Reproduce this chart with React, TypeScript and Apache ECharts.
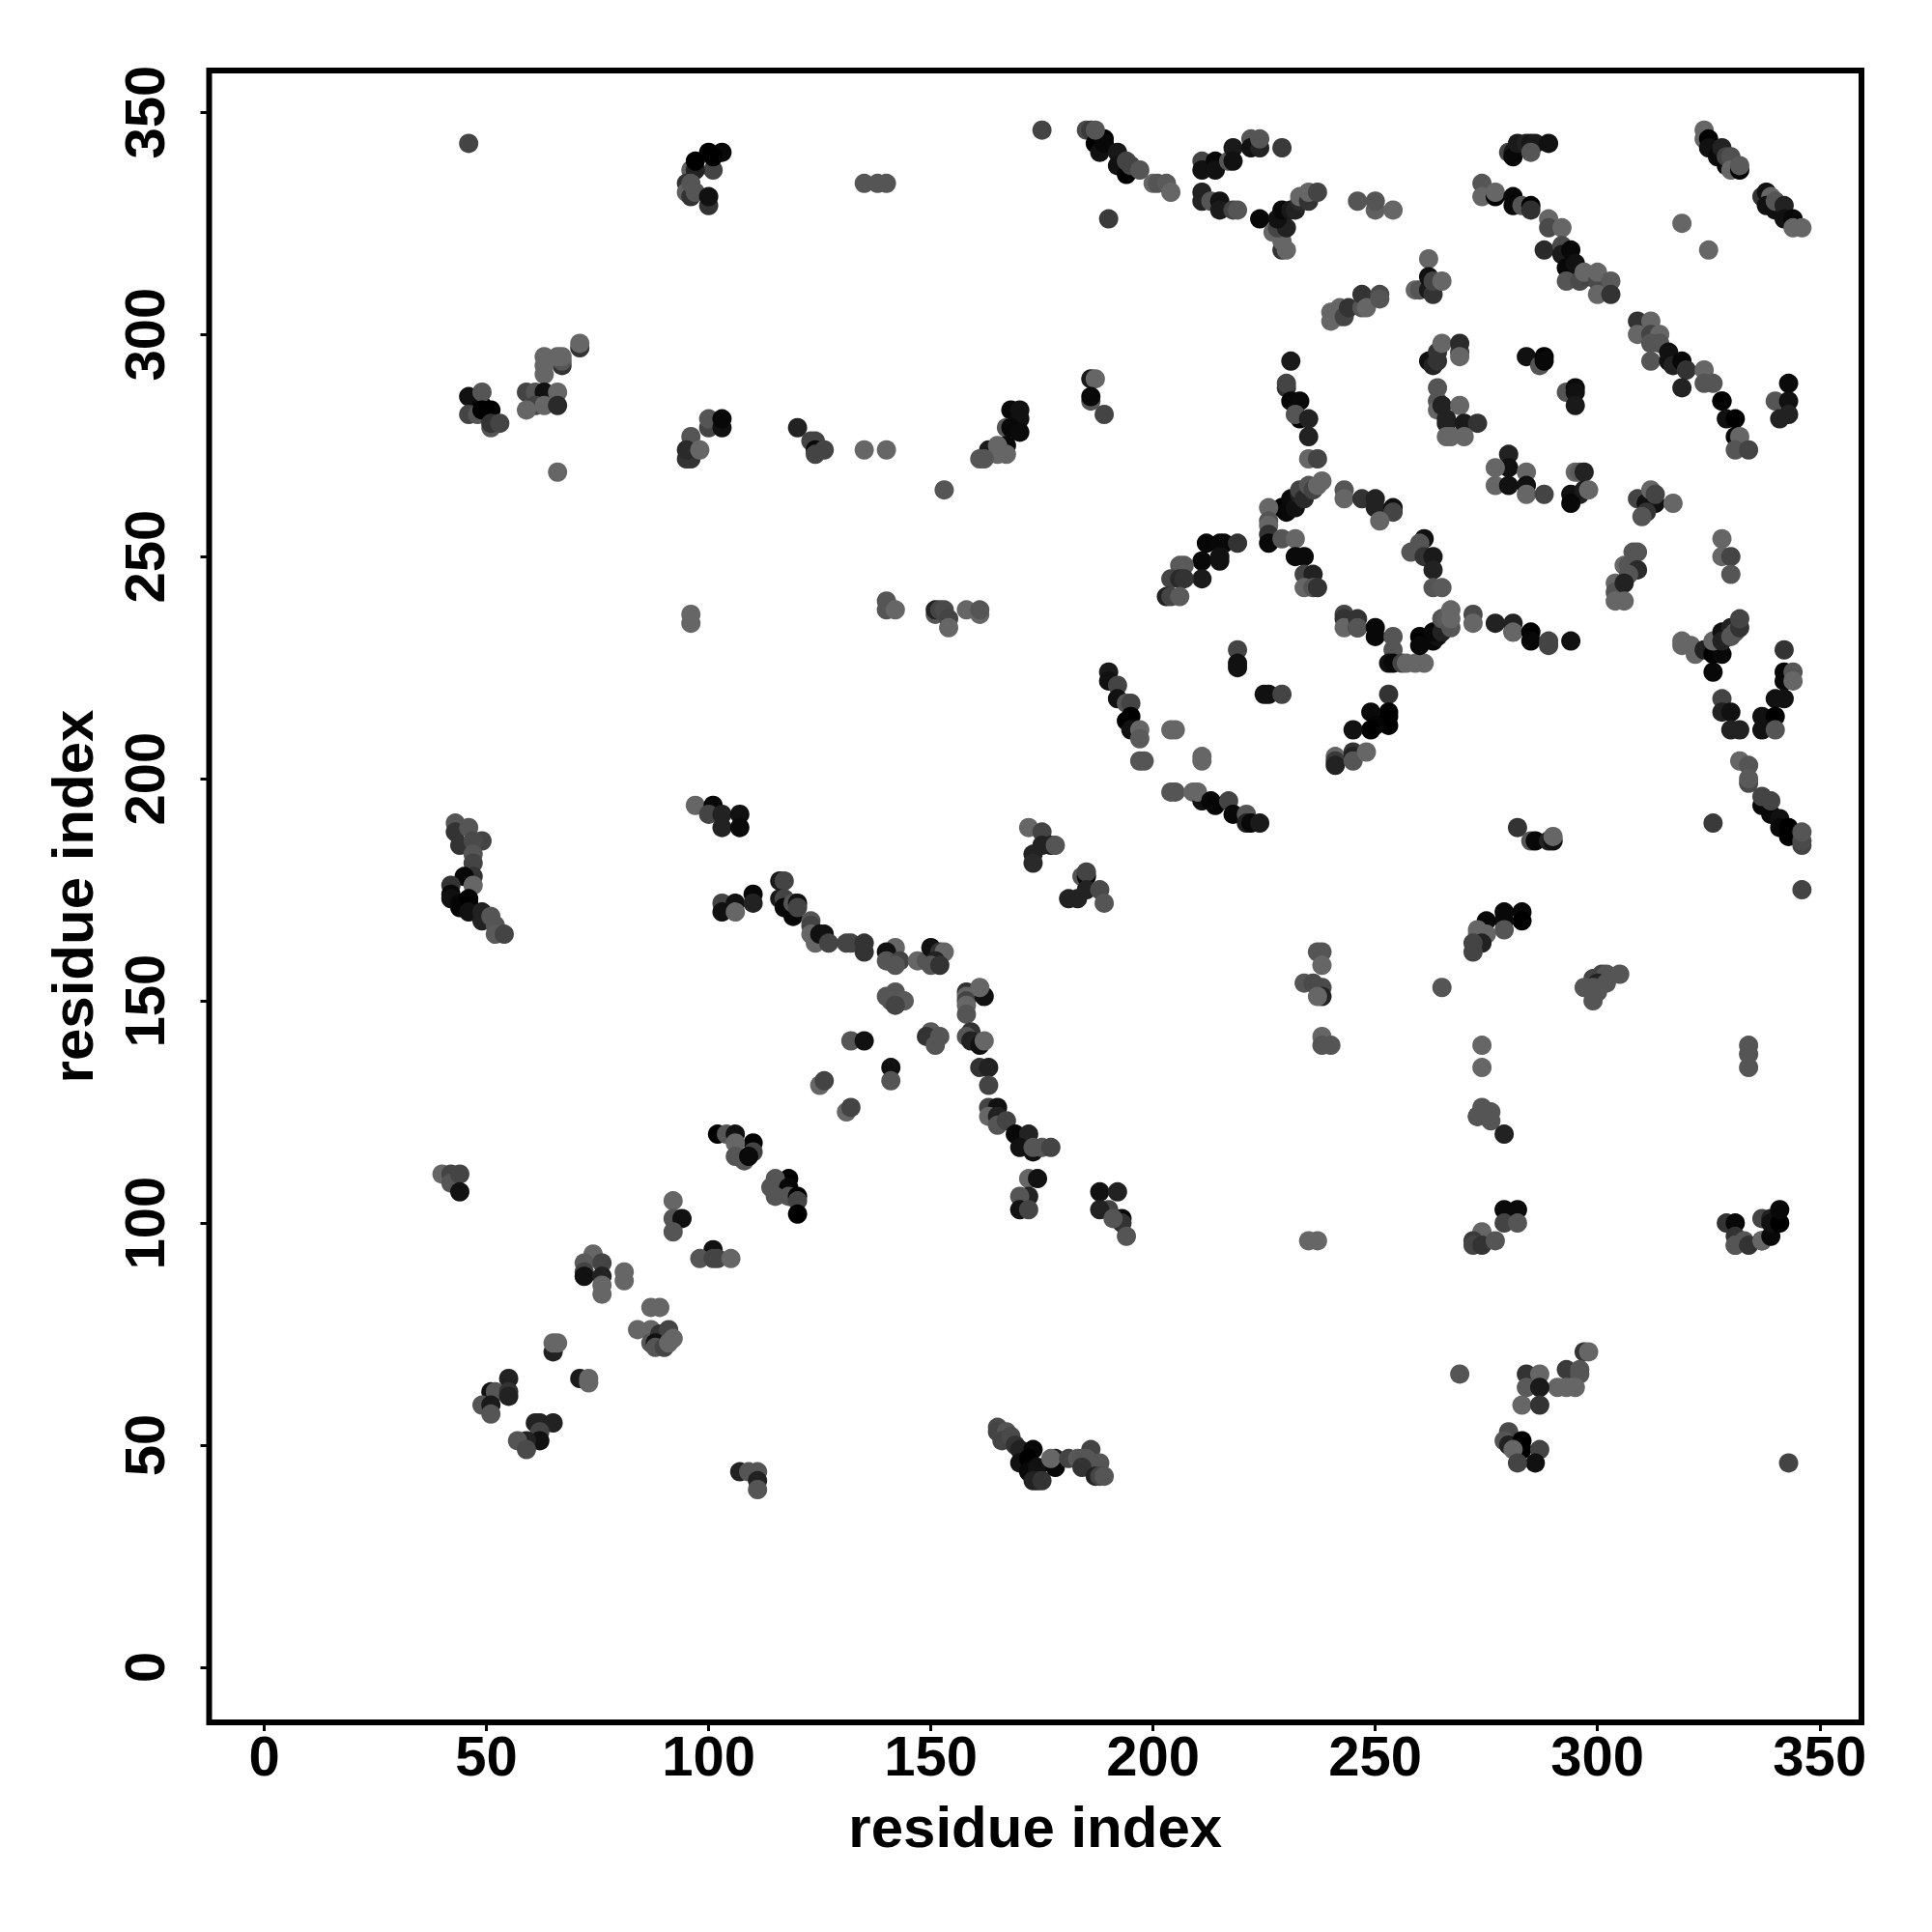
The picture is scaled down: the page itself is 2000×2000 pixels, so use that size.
import React, { useEffect, useRef } from "react";
import * as echarts from "echarts";

type Contact = [number, number, number];

const tickValues = [0, 50, 100, 150, 200, 250, 300, 350];
const xTitle = "residue index";
const yTitle = "residue index";

const upperLeft: Contact[] = [
  [46,343,0x44],[96,337,0x60],[101,337,0x44],[103,341,0x08],[100,341,0x00],[101,340,0x00],[97,337,0x22],[97,339,0x00],
  [95,334,0x33],[95,332,0x60],[96,331,0x33],[96,334,0x55],[97,332,0x55],[100,329,0x33],[100,331,0x11],
  [71,297,0x33],[71,298,0x66],[67,293,0x33],[67,294,0x55],[66,295,0x66],[67,295,0x66],[63,291,0x66],[63,293,0x66],[63,295,0x66],
  [59,287,0x44],[61,287,0x55],[63,287,0x11],[66,287,0x66],[61,284,0x44],[63,284,0x66],[66,284,0x2a],[59,283,0x66],[66,269,0x66],
  [46,286,0x11],[49,284,0x08],[49,287,0x55],[46,282,0x44],[48,282,0x55],[49,283,0x00],[51,283,0x00],[51,279,0x55],[51,280,0x33],[53,280,0x44],
  [100,279,0x44],[100,281,0x55],[103,279,0x11],[103,281,0x08],[96,277,0x55],[95,272,0x33],[96,272,0x33],[95,274,0x2a],[98,274,0x66],
  [96,237,0x66],[96,235,0x66],
];

const upperMiddle: Contact[] = [
  [135,334,0x55],[138,334,0x55],[140,334,0x55],[175,346,0x44],[185,346,0x4a],[186,346,0x3a],[187,343,0x00],[189,344,0x00],[188,341,0x11],[189,343,0x08],[187,346,0x55],
  [192,341,0x18],[192,338,0x11],[194,336,0x00],[194,339,0x44],[195,338,0x44],[197,337,0x55],
  [200,334,0x66],[201,334,0x55],[203,334,0x5a],[204,332,0x66],[190,326,0x3a],
  [211,339,0x44],[211,337,0x11],[214,339,0x08],[214,337,0x11],[217,339,0x55],[218,342,0x1a],[218,339,0x11],[222,344,0x55],[222,342,0x11],[224,342,0x22],[224,344,0x55],[229,342,0x3a],
  [211,332,0x22],[211,330,0x22],[213,330,0x55],[215,330,0x11],[215,328,0x1a],[218,328,0x44],[219,328,0x55],[224,326,0x08],
  [229,319,0x33],[230,319,0x66],[229,321,0x66],[227,323,0x66],[228,324,0x44],[230,324,0x22],[228,326,0x11],[229,328,0x08],[231,328,0x1a],[232,328,0x22],[233,330,0x2a],[234,331,0x22],[233,331,0x66],[235,330,0x33],[235,332,0x66],[237,332,0x44],
  [246,330,0x55],[250,328,0x60],[250,330,0x55],[254,328,0x66],
  [240,305,0x66],[240,303,0x66],[242,306,0x66],[242,304,0x66],[243,304,0x44],[244,306,0x33],[247,306,0x55],[247,309,0x33],[248,306,0x66],[251,309,0x4a],[251,308,0x55],
  [140,240,0x55],[140,238,0x55],[142,238,0x66],[151,237,0x55],[151,238,0x22],[152,238,0x44],[153,238,0x4a],[154,236,0x44],[154,234,0x66],[158,238,0x66],[161,237,0x66],[161,238,0x55],
  [186,290,0x1a],[187,290,0x66],[186,285,0x55],[186,286,0x08],[189,282,0x44],
  [120,279,0x22],[123,276,0x44],[124,276,0x44],[124,274,0x08],[124,273,0x44],[126,274,0x44],[135,274,0x66],[140,274,0x66],[153,265,0x55],
  [168,283,0x08],[170,283,0x11],[170,281,0x11],[167,279,0x55],[168,279,0x08],[170,278,0x0a],[167,275,0x08],[163,274,0x1a],[165,275,0x66],[165,273,0x66],[167,273,0x66],[161,272,0x55],[162,272,0x55],
];

const upperRight: Contact[] = [
  [262,317,0x66],[259,310,0x66],[260,310,0x55],[262,310,0x1a],[262,313,0x11],[263,309,0x33],[263,312,0x44],[265,312,0x66],
  [280,341,0x44],[281,341,0x1a],[281,340,0x08],[282,343,0x1a],[284,343,0x22],[285,343,0x18],[286,343,0x1a],[289,343,0x11],[285,341,0x55],
  [274,334,0x55],[274,331,0x66],[277,331,0x00],[277,332,0x66],[281,331,0x08],[281,329,0x08],[283,329,0x55],[285,329,0x00],[285,328,0x30],
  [289,326,0x66],[289,324,0x4a],[292,324,0x66],[288,319,0x2a],[292,320,0x4a],[292,318,0x1a],[294,319,0x08],[293,315,0x08],[295,316,0x11],[293,312,0x55],[296,312,0x4a],[298,313,0x44],[297,314,0x66],[300,312,0x4a],[300,314,0x66],[300,309,0x66],[303,312,0x5a],[303,309,0x33],
  [324,346,0x66],[324,344,0x66],[325,344,0x00],[325,342,0x11],[327,340,0x0a],[328,342,0x22],[329,338,0x08],[329,340,0x44],[330,340,0x50],[330,337,0x66],[332,337,0x05],[332,338,0x5a],
  [319,325,0x66],[325,319,0x66],
  [337,331,0x33],[338,332,0x11],[339,331,0x66],[338,329,0x11],[340,328,0x11],[340,330,0x55],[342,329,0x22],[342,326,0x11],[344,326,0x08],[344,324,0x66],[346,324,0x66],
  [309,303,0x33],[312,303,0x66],[309,300,0x66],[312,300,0x44],[314,300,0x66],[312,298,0x55],[314,298,0x55],[316,296,0x11],[312,294,0x55],[316,294,0x11],[317,293,0x22],[319,294,0x08],[320,292,0x33],[324,292,0x66],[319,288,0x22],[324,289,0x55],[326,289,0x55],
  [328,285,0x33],[328,285,0x00],[329,281,0x11],[331,281,0x00],[331,277,0x0a],[332,277,0x66],[331,274,0x55],[334,274,0x44],
  [340,285,0x55],[343,289,0x0a],[343,285,0x11],[343,282,0x22],[341,281,0x22],
  [280,273,0x22],[280,270,0x11],[277,270,0x66],[277,266,0x66],[284,269,0x66],[280,266,0x11],[284,266,0x11],[284,264,0x66],[288,264,0x44],
  [295,269,0x66],[296,269,0x5a],[297,269,0x22],[296,264,0x22],[294,264,0x11],[294,262,0x08],[297,265,0x1a],[298,265,0x66],
  [309,263,0x44],[311,262,0x0a],[311,262,0x11],[313,262,0x11],[311,260,0x33],[310,259,0x55],[312,265,0x66],[313,264,0x44],[317,262,0x66],
  [328,254,0x66],[328,250,0x66],[330,250,0x44],[330,246,0x55],
  [308,251,0x55],[309,251,0x55],[306,248,0x66],[307,248,0x55],[309,247,0x2a],[307,246,0x55],[304,244,0x66],[304,242,0x55],[306,244,0x22],[304,240,0x66],[306,240,0x66],
  [261,254,0x11],[260,253,0x55],[258,251,0x55],[261,250,0x33],[263,250,0x1a],[263,247,0x22],[263,243,0x55],[265,243,0x5a],
  [262,294,0x11],[263,293,0x22],[264,294,0x33],[264,296,0x33],[265,298,0x66],[269,296,0x44],[269,298,0x2a],[269,295,0x66],
  [264,288,0x55],[264,285,0x55],[264,283,0x66],[265,284,0x22],[269,284,0x66],[266,281,0x22],[266,280,0x22],[270,280,0x1a],[273,280,0x33],[266,277,0x66],[267,277,0x66],[270,277,0x66],
  [284,295,0x11],[287,293,0x55],[288,295,0x00],[288,294,0x08],
  [293,287,0x55],[295,288,0x08],[295,287,0x11],[295,284,0x1a],
];

const centerWeb: Contact[] = [
  [231,294,0x1a],[230,288,0x33],[230,289,0x44],[231,285,0x08],[233,285,0x0a],[233,281,0x00],[232,282,0x55],[235,281,0x22],[235,277,0x22],[235,272,0x66],[237,272,0x44],
  [229,261,0x08],[229,261,0x00],[230,260,0x08],[231,263,0x0a],[232,261,0x11],[233,264,0x22],[233,265,0x44],[234,263,0x2a],[235,266,0x55],[236,265,0x44],[237,266,0x66],[238,267,0x66],
  [226,261,0x66],[226,258,0x55],[226,257,0x66],[226,255,0x33],[226,253,0x08],[229,254,0x55],[232,254,0x66],
  [232,250,0x0a],[234,250,0x0a],[234,246,0x44],[236,246,0x22],[234,243,0x66],[236,243,0x55],[237,243,0x33],
  [212,253,0x05],[215,253,0x08],[216,253,0x08],[219,253,0x33],[211,249,0x08],[215,250,0x11],[215,249,0x11],[211,245,0x1a],
  [206,248,0x5a],[207,248,0x5a],[204,245,0x44],[206,245,0x2a],[207,245,0x33],[203,241,0x22],[204,241,0x44],[206,241,0x5a],
  [219,229,0x44],[219,226,0x11],[219,225,0x11],[225,219,0x11],[226,219,0x11],[229,219,0x44],
  [190,224,0x1a],[190,222,0x11],[192,221,0x44],[192,218,0x11],[194,217,0x55],[195,217,0x44],[194,213,0x00],[195,214,0x00],[195,211,0x11],[197,211,0x66],[197,209,0x5a],[197,204,0x55],[198,204,0x55],
  [204,211,0x66],[205,211,0x66],[211,205,0x66],[211,204,0x66],
  [204,197,0x55],[205,197,0x55],[209,197,0x66],[211,195,0x11],[210,197,0x66],[213,195,0x08],[214,194,0x05],[217,195,0x44],[218,192,0x08],[221,192,0x55],[221,190,0x22],[222,190,0x08],[224,190,0x1a],
  [172,189,0x66],[175,188,0x44],[175,185,0x22],[177,185,0x22],[178,185,0x55],[173,183,0x22],[173,181,0x2a],
  [184,178,0x55],[185,178,0x08],[185,179,0x44],[185,175,0x22],[188,175,0x4a],[181,173,0x22],[183,173,0x22],[189,172,0x55],
  [243,265,0x55],[243,263,0x66],[247,263,0x33],[250,263,0x22],[250,261,0x22],[254,261,0x11],[254,260,0x44],[251,258,0x66],
  [243,237,0x44],[243,236,0x33],[243,234,0x66],[246,236,0x33],[246,234,0x22],[246,234,0x55],[250,234,0x08],[250,232,0x08],[254,232,0x55],[254,229,0x55],
  [253,226,0x11],[254,226,0x08],[256,226,0x44],[257,226,0x66],[259,226,0x66],[261,226,0x66],
  [260,232,0x00],[260,230,0x08],[263,231,0x08],[264,232,0x11],[263,233,0x08],[265,233,0x22],[265,236,0x2a],[265,236,0x55],[266,236,0x5a],[267,234,0x55],[267,236,0x66],[267,238,0x66],
  [272,237,0x4a],[272,235,0x66],[277,235,0x22],[281,235,0x22],[281,233,0x11],[281,233,0x66],[285,233,0x00],[285,231,0x08],[289,231,0x44],[289,230,0x44],[294,231,0x11],
  [253,219,0x33],[253,215,0x00],[253,214,0x00],[249,215,0x0a],[253,212,0x00],[250,212,0x05],[249,211,0x00],[245,211,0x11],
  [241,205,0x66],[241,204,0x3a],[241,203,0x22],[245,206,0x33],[245,205,0x22],[245,204,0x55],[248,206,0x66],
];

const rightEdge: Contact[] = [
  [342,229,0x33],[342,224,0x08],[342,222,0x08],[344,224,0x55],[344,222,0x66],[340,218,0x11],[342,218,0x11],[337,214,0x11],[340,214,0x00],[337,211,0x11],[340,211,0x55],
  [328,218,0x44],[328,215,0x22],[330,215,0x11],[330,211,0x22],[332,211,0x22],[326,224,0x08],
  [319,231,0x66],[319,230,0x66],[321,230,0x66],[322,228,0x66],[324,229,0x22],[326,228,0x00],[328,228,0x08],[326,231,0x66],[328,233,0x11],[328,231,0x22],[330,234,0x22],[331,233,0x55],[330,232,0x55],[332,234,0x33],[332,236,0x44],
  [332,204,0x66],[334,203,0x55],[334,199,0x4a],[334,200,0x5a],[337,194,0x08],[337,196,0x44],[339,192,0x08],[339,195,0x44],[341,191,0x11],[341,189,0x08],[343,189,0x00],[343,187,0x00],[346,185,0x44],[346,186,0x4a],[346,188,0x55],
  [326,190,0x3a],[346,175,0x44],
  [282,189,0x33],[285,186,0x55],[286,186,0x08],[289,186,0x22],[290,186,0x11],[290,187,0x66],
  [283,170,0x08],[283,168,0x00],[279,170,0x08],[279,168,0x08],[279,166,0x55],[275,168,0x08],[275,165,0x66],[273,166,0x66],[273,165,0x66],[274,163,0x22],[272,163,0x44],[272,161,0x44],
  [265,153,0x55],
  [299,155,0x44],[301,156,0x44],[302,156,0x55],[305,156,0x55],[300,154,0x22],[302,154,0x55],[297,153,0x55],[299,153,0x55],[300,152,0x55],[299,150,0x55],
  [237,161,0x55],[238,161,0x55],[238,158,0x66],[234,154,0x55],[236,154,0x4a],[238,153,0x4a],[238,151,0x22],[237,151,0x66],[238,142,0x66],[238,140,0x55],[240,140,0x55],
  [274,140,0x66],[274,135,0x66],[334,140,0x55],[334,138,0x55],[334,135,0x55],
  [273,124,0x08],[273,124,0x55],[274,126,0x55],[276,125,0x55],[276,123,0x55],[279,120,0x22],
];

const lowerRight: Contact[] = [
  [279,103,0x0a],[282,103,0x0a],[279,100,0x44],[282,100,0x55],[274,98,0x66],[272,96,0x3a],[272,95,0x44],[274,95,0x33],[277,96,0x55],
  [235,96,0x66],[237,96,0x66],
  [329,100,0x33],[331,100,0x08],[331,97,0x33],[331,95,0x55],[331,95,0x55],[333,96,0x55],[334,95,0x33],[337,96,0x08],[337,96,0x66],[339,97,0x08],[337,101,0x44],[339,101,0x22],[339,100,0x11],[341,100,0x00],[341,103,0x08],
  [297,71,0x33],[298,71,0x66],[293,67,0x3a],[296,67,0x55],[296,66,0x55],[291,63,0x66],[293,63,0x66],[295,63,0x66],
  [284,66,0x33],[287,66,0x66],[284,63,0x5a],[287,63,0x1a],[283,59,0x66],[287,59,0x33],[269,66,0x55],
  [280,53,0x4a],[279,51,0x55],[280,50,0x22],[283,51,0x00],[283,49,0x00],[281,49,0x66],[287,49,0x44],[286,46,0x11],[282,46,0x44],[343,46,0x44],
];

const lowerLeft: Contact[] = [
  [43,190,0x55],[43,188,0x33],[46,189,0x55],[44,185,0x33],[49,186,0x44],[47,186,0x4a],[47,183,0x55],[47,181,0x44],[47,178,0x33],[45,178,0x08],[47,176,0x66],
  [42,176,0x33],[42,174,0x08],[42,173,0x11],[44,172,0x08],[46,172,0x00],[44,171,0x05],[46,173,0x00],[46,170,0x11],[49,170,0x22],[49,168,0x22],[51,169,0x55],[52,167,0x55],[52,165,0x5a],[54,165,0x44],
  [97,194,0x66],[101,194,0x08],[100,192,0x44],[103,192,0x22],[107,192,0x11],[103,189,0x22],[107,189,0x0a],
  [103,172,0x44],[103,170,0x11],[106,172,0x11],[106,170,0x66],[110,174,0x08],[110,172,0x22],
  [116,177,0x1a],[117,177,0x44],[116,173,0x1a],[117,173,0x44],[117,171,0x08],[119,169,0x08],[119,172,0x55],[120,172,0x11],[120,171,0x44],
  [123,168,0x55],[123,167,0x44],[123,165,0x66],[124,163,0x66],[125,165,0x11],[126,165,0x11],[127,163,0x44],
  [131,163,0x44],[132,163,0x44],[135,163,0x33],[135,161,0x33],
  [142,162,0x66],[140,161,0x11],[140,159,0x55],[143,159,0x44],[142,158,0x55],[147,159,0x66],[149,159,0x55],[150,162,0x11],[152,161,0x33],[153,161,0x66],[151,159,0x22],[150,158,0x55],[152,158,0x33],
  [142,152,0x55],[140,151,0x55],[141,150,0x55],[144,150,0x5a],[142,149,0x44],
  [150,143,0x5a],[149,142,0x33],[152,142,0x55],[151,140,0x55],
  [132,141,0x55],[135,141,0x11],[141,135,0x11],[141,132,0x55],[125,131,0x66],[126,132,0x44],[131,125,0x66],[132,126,0x44],
  [158,152,0x33],[158,151,0x66],[158,150,0x44],[158,149,0x66],[158,147,0x55],[162,151,0x11],[161,153,0x66],
  [159,143,0x33],[158,142,0x55],[159,141,0x22],[161,140,0x11],[162,141,0x66],
  [161,135,0x33],[163,135,0x22],[163,131,0x44],[163,126,0x44],[165,126,0x11],[163,124,0x66],[165,124,0x22],[165,122,0x55],[167,123,0x44],
  [169,120,0x08],[172,120,0x22],[170,117,0x11],[173,116,0x11],[173,117,0x55],[175,117,0x55],[177,117,0x44],
  [172,110,0x66],[174,110,0x11],[172,106,0x22],[170,106,0x55],[170,103,0x11],[172,103,0x44],
  [188,107,0x11],[192,107,0x22],[190,103,0x44],[188,103,0x22],[193,101,0x08],[193,100,0x33],[191,101,0x55],[194,97,0x55],
  [40,111,0x66],[42,111,0x44],[42,109,0x55],[44,111,0x44],[44,107,0x11],
  [102,120,0x00],[104,120,0x55],[106,120,0x11],[110,118,0x00],[110,116,0x44],[106,118,0x66],[106,115,0x55],[108,114,0x55],[109,115,0x0a],
  [118,110,0x00],[115,109,0x08],[115,110,0x55],[114,108,0x55],[118,108,0x08],[115,106,0x55],[118,106,0x55],[120,106,0x00],[120,105,0x44],[120,102,0x00],
  [92,105,0x66],[92,101,0x55],[94,101,0x11],[92,98,0x55],[101,94,0x11],[98,92,0x55],[101,92,0x44],[102,92,0x44],[105,92,0x66],
  [74,93,0x66],[72,91,0x5a],[72,89,0x44],[72,88,0x11],[76,91,0x44],[76,88,0x22],[76,86,0x66],[76,84,0x66],[81,89,0x66],[81,87,0x66],
  [87,81,0x66],[89,81,0x66],[84,76,0x66],[87,76,0x66],[87,73,0x55],[89,75,0x33],[91,76,0x44],[88,73,0x11],[88,72,0x55],[90,72,0x44],[91,73,0x66],[92,74,0x66],
  [65,71,0x22],[65,73,0x66],[66,73,0x66],[71,65,0x1a],[73,65,0x66],[73,64,0x66],
  [55,65,0x22],[51,62,0x11],[52,62,0x55],[55,62,0x33],[55,61,0x22],[49,59,0x55],[51,59,0x1a],[51,57,0x55],
  [61,55,0x22],[62,55,0x22],[65,55,0x22],[62,53,0x44],[62,51,0x11],[59,51,0x22],[57,51,0x55],[59,49,0x4a],
  [107,44,0x22],[109,44,0x55],[111,44,0x55],[111,42,0x22],[111,40,0x55],
  [165,54,0x4a],[165,53,0x44],[167,53,0x55],[166,51,0x44],[168,52,0x4a],[169,50,0x33],[170,49,0x22],[173,49,0x08],[170,46,0x11],[172,47,0x00],[172,44,0x08],[174,45,0x11],[173,42,0x22],[174,42,0x22],[175,42,0x33],
  [178,47,0x22],[178,45,0x08],[177,47,0x66],[181,47,0x44],[186,49,0x44],[183,47,0x5a],[184,47,0x55],[185,47,0x55],[188,46,0x55],[184,45,0x33],[187,43,0x22],[188,43,0x44],[189,43,0x55],
];

const regions = [upperLeft, upperMiddle, upperRight, centerWeb, rightEdge, lowerRight, lowerLeft];

const grey = (g: number) => `rgb(${g},${g},${g})`;

const baseAxis = {
  type: "value" as const,
  splitLine: { show: false },
  axisLine: { show: false, onZero: false },
  axisTick: { show: true, length: 9, customValues: tickValues, lineStyle: { color: "#000", width: 3 } },
  nameLocation: "middle" as const,
  nameTextStyle: { color: "#000", fontFamily: "Liberation Sans", fontWeight: "bold" as const, fontSize: 60 },
};

const labelStyle = { color: "#000", fontFamily: "Liberation Sans", fontWeight: "bold" as const, fontSize: 58, customValues: tickValues };

export default function App() {
  const ref = useRef<HTMLDivElement>(null);
  useEffect(() => {
    if (!ref.current) return;
    const chart = echarts.init(ref.current, undefined, { renderer: "svg" });
    chart.setOption({
      animation: false,
      backgroundColor: "#fff",
      grid: { left: 216.5, top: 73, width: 1710.5, height: 1710, show: true, borderColor: "#000", borderWidth: 6, backgroundColor: "#fff" },
      xAxis: { ...baseAxis, min: -12.4, max: 359.4, name: xTitle, nameGap: 78, axisLabel: { ...labelStyle, margin: 5 } },
      yAxis: { ...baseAxis, min: -12.4, max: 359.4, name: yTitle, nameGap: 111, axisLabel: { ...labelStyle, rotate: 90, margin: 38 } },
      series: regions.map((region) => ({
        type: "scatter",
        symbol: "circle",
        symbolSize: 20,
        silent: true,
        clip: false,
        data: region.map(([x, y, g]) => ({ value: [x, y], itemStyle: { color: grey(g), opacity: 1 } })),
      })),
    });
    return () => chart.dispose();
  }, []);
  return <div ref={ref} style={{ position: "absolute", left: 0, top: 0, width: 2000, height: 2000 }} />;
}
